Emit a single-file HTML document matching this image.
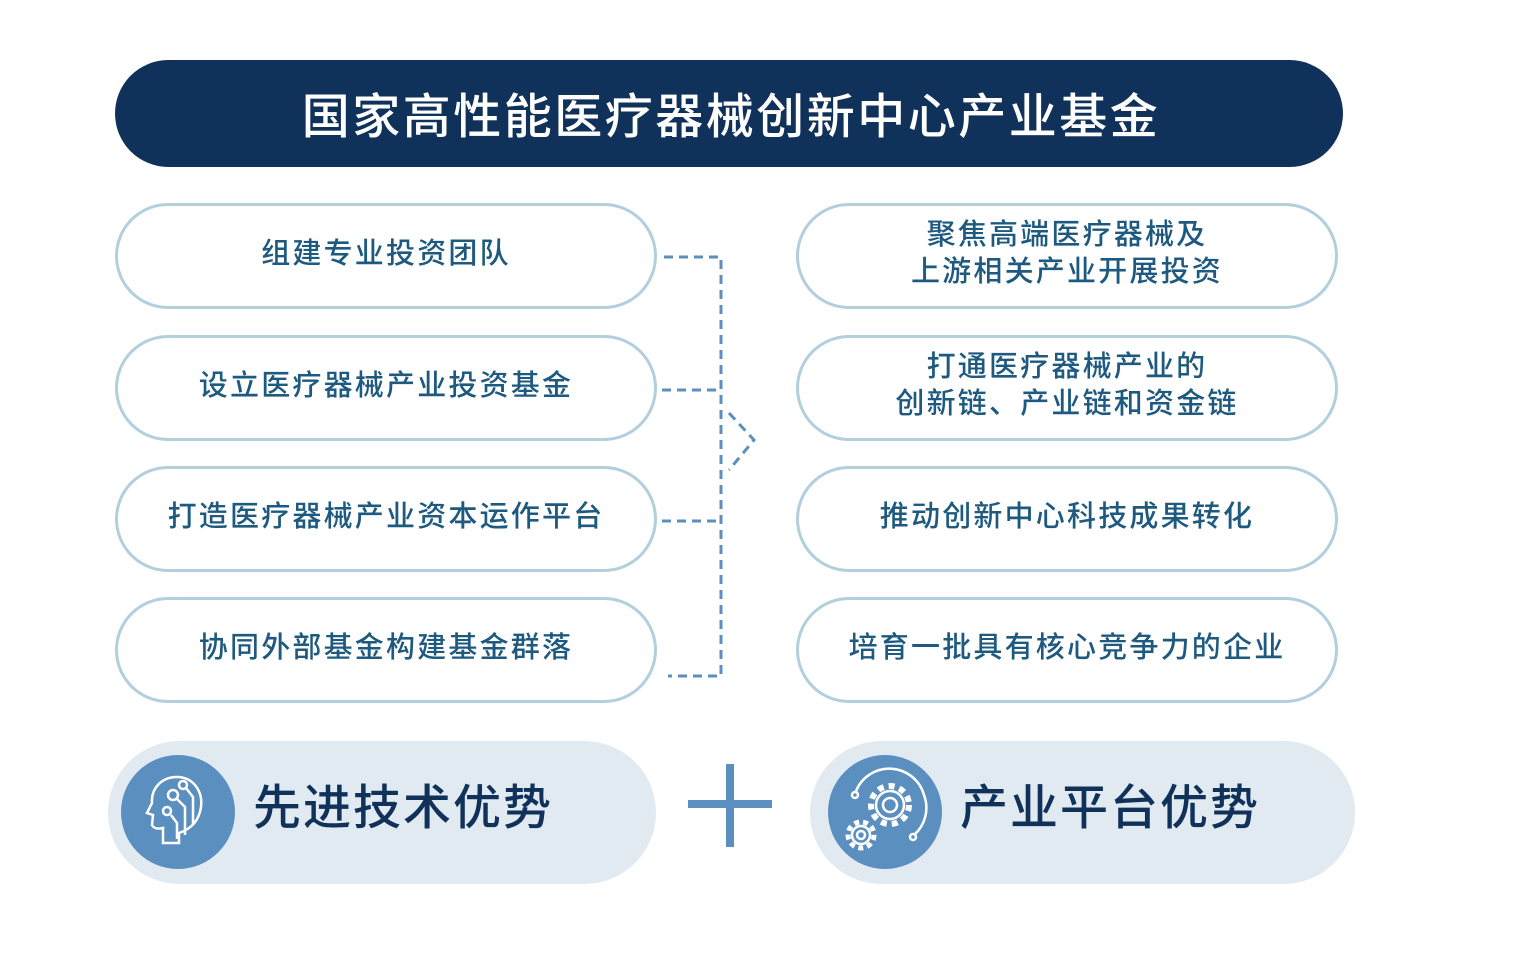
<!DOCTYPE html>
<html><head><meta charset="utf-8"><style>
body{margin:0;width:1530px;height:967px;background:#fff;position:relative;overflow:hidden;font-family:"Liberation Sans","Noto Sans CJK SC",sans-serif}
.a{position:absolute}
.title{left:115px;top:60px;width:1228px;height:107px;border-radius:54px;background:#10325a;color:#fff;font-size:48px;letter-spacing:2.5px;display:flex;align-items:center;justify-content:center;font-weight:500;padding-left:4px;box-sizing:border-box;padding-bottom:4px}
.box{position:absolute;width:536px;height:100px;border:3px solid #b1cfdc;border-radius:53px;color:#1e5a80;font-size:29px;letter-spacing:2.2px;display:flex;align-items:center;justify-content:center;text-align:center;line-height:37px;font-weight:500;box-sizing:content-box;padding-bottom:4px;height:96px}
.pill{position:absolute;top:741px;height:143px;border-radius:72px;background:#e1e9f1}
.circ{position:absolute;width:114px;height:114px;border-radius:57px;background:#5b8fc0;top:755px}
.big{position:absolute;top:776px;font-size:48px;letter-spacing:2px;color:#10325a;font-weight:500;line-height:66px}
</style></head><body>
<div class="a title">国家高性能医疗器械创新中心产业基金</div>
<div class="box" style="left:115px;top:203px">组建专业投资团队</div>
<div class="box" style="left:115px;top:335px">设立医疗器械产业投资基金</div>
<div class="box" style="left:115px;top:466px">打造医疗器械产业资本运作平台</div>
<div class="box" style="left:115px;top:597px">协同外部基金构建基金群落</div>
<div class="box" style="left:796px;top:203px">聚焦高端医疗器械及<br>上游相关产业开展投资</div>
<div class="box" style="left:796px;top:335px">打通医疗器械产业的<br>创新链、产业链和资金链</div>
<div class="box" style="left:796px;top:466px">推动创新中心科技成果转化</div>
<div class="box" style="left:796px;top:597px">培育一批具有核心竞争力的企业</div>
<svg class="a" style="left:0;top:0" width="1530" height="967">
<g stroke="#5b8fc0" stroke-width="3" fill="none" stroke-dasharray="9,6">
<path d="M664 257H721V676H668"/>
<path d="M662 390H720M662 521H720"/>
<path d="M729 413L754 440L729 470"/>
</g>
<rect x="726" y="764" width="8" height="83" fill="#5b8fc0"/>
<rect x="688" y="800" width="84" height="8" fill="#5b8fc0"/>
</svg>
<div class="pill" style="left:108px;width:548px"></div>
<div class="pill" style="left:810px;width:545px"></div>
<div class="circ" style="left:121px"></div>
<div class="circ" style="left:828px"></div>
<svg class="a" style="left:121px;top:755px" width="114" height="114" fill="none" stroke="#fff" stroke-width="2.5">
<path d="M58 88V78C70 74 78 66 80 52C82 36 72 22 56 22C40 22 30 34 31 48L26 58L32 60L31 70C33 74 38 74 42 73V88Z"/>
<circle cx="52" cy="40" r="5"/><circle cx="62" cy="30" r="4"/><circle cx="46" cy="56" r="4"/>
<path d="M56 44L64 52V80M65 33L72 42V70M50 60L56 68V84"/>
</svg>
<svg class="a" style="left:828px;top:755px" width="114" height="114" fill="none" stroke="#fff">
<circle cx="62" cy="50" r="19" stroke-width="6" stroke-dasharray="6,5"/><circle cx="62" cy="50" r="14" stroke-width="2.5"/><circle cx="62" cy="50" r="7" stroke-width="2.5"/>
<circle cx="33" cy="80" r="13" stroke-width="5" stroke-dasharray="5,4"/><circle cx="33" cy="80" r="9" stroke-width="2.5"/><circle cx="33" cy="80" r="4" stroke-width="2.5"/>
<path d="M28 36A36 36 0 0 1 96 40A36 36 0 0 1 86 80" stroke-width="2.5"/><circle cx="27" cy="40" r="3" stroke-width="2.5"/><circle cx="85" cy="82" r="3" stroke-width="2.5"/>
</svg>
<div class="big" style="left:253px">先进技术优势</div>
<div class="big" style="left:960px">产业平台优势</div>
</body></html>
